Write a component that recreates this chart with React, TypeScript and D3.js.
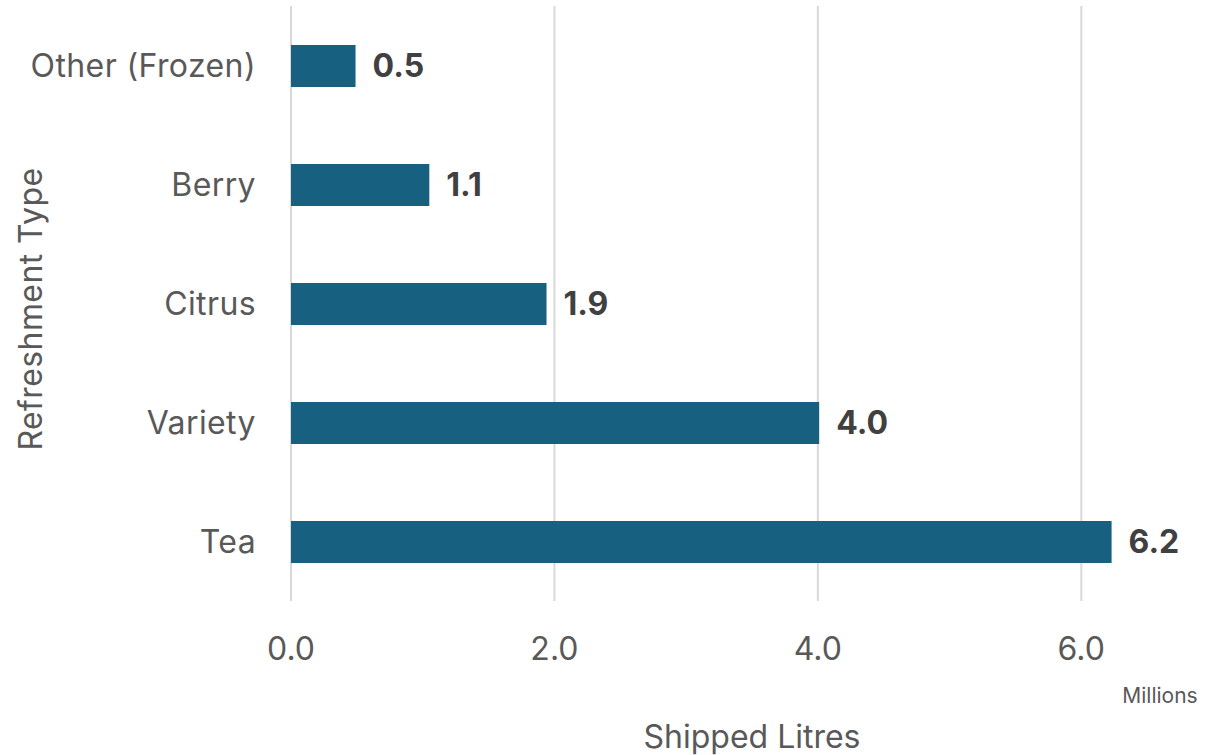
import React from "react";
import * as d3 from "d3";

const categories = ["Other (Frozen)", "Berry", "Citrus", "Variety", "Tea"];
const values = [0.49, 1.05, 1.94, 4.01, 6.23];
const labels = ["0.5", "1.1", "1.9", "4.0", "6.2"];
const xTicks = [0, 2, 4, 6];

const W = 1227;
const H = 755;
const FONT = "Inter, 'Noto Sans', sans-serif";
const FS = 32;

export default function App() {
  const x = d3.scaleLinear().domain([0, 7]).range([291, 1213]);
  const y = d3
    .scaleBand<string>()
    .domain(categories)
    .range([6.5, 601.5])
    .paddingInner(0.647)
    .paddingOuter(0.3235);
  const bw = y.bandwidth();
  return (
    <svg
      width={W}
      height={H}
      style={{ position: "absolute", left: 0, top: 0, background: "#fff" }}
      fontFamily={FONT}
    >
      {xTicks.map((t) => (
        <g key={t}>
          <line x1={x(t)} x2={x(t)} y1={6} y2={601} stroke="#d9d9d9" strokeWidth={2} />
          <text x={x(t)} y={660} textAnchor="middle" fontSize={FS} fill="#595959">
            {d3.format(".1f")(t)}
          </text>
        </g>
      ))}
      {categories.map((c, i) => {
        const yy = y(c)!;
        return (
          <g key={c}>
            <rect x={x(0)} y={yy} width={x(values[i]) - x(0)} height={bw} fill="#17607f" />
            <text
              x={256}
              y={yy + bw / 2 + 11}
              textAnchor="end"
              fontSize={FS}
              letterSpacing={0.4}
              fill="#595959"
            >
              {c}
            </text>
            <text
              x={x(values[i]) + 17}
              y={yy + bw / 2 + 11}
              fontSize={FS}
              fontWeight="bold"
              fill="#404040"
            >
              {labels[i]}
            </text>
          </g>
        );
      })}
      <text x={1160} y={703} textAnchor="middle" fontSize={21} fill="#595959">
        Millions
      </text>
      <text x={752} y={748} textAnchor="middle" fontSize={FS} fill="#595959">
        Shipped Litres
      </text>
      <text
        transform={`translate(42,309) rotate(-90)`}
        textAnchor="middle"
        fontSize={FS}
        letterSpacing={0.4}
        fill="#595959"
      >
        Refreshment Type
      </text>
    </svg>
  );
}
